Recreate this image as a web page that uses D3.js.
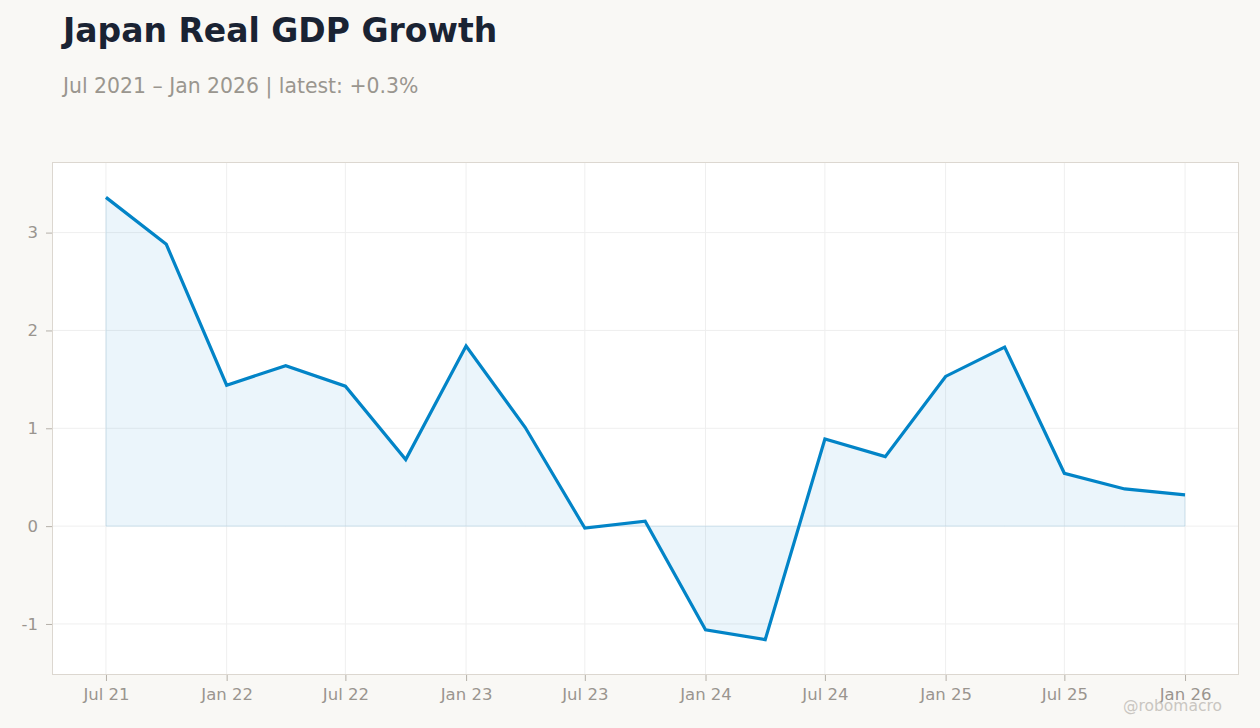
<!DOCTYPE html>
<html>
<head>
<meta charset="utf-8">
<script src="https://cdn.jsdelivr.net/npm/d3@7"></script>
<style>
  html, body { margin: 0; padding: 0; background: #f9f8f5; }
  svg { display: block; }
</style>
</head>
<body>
<svg id="chart" width="1260" height="728"></svg>
<script>
// quarterly real GDP growth, % y/y
var quarters = ["2021-07", "2021-10", "2022-01", "2022-04", "2022-07", "2022-10",
                "2023-01", "2023-04", "2023-07", "2023-10", "2024-01", "2024-04",
                "2024-07", "2024-10", "2025-01", "2025-04", "2025-07", "2025-10", "2026-01"];
var growth = [3.36, 2.88, 1.44, 1.64, 1.43, 0.68,
              1.84, 1.01, -0.02, 0.05, -1.06, -1.16,
              0.89, 0.71, 1.53, 1.83, 0.54, 0.38, 0.32];
var yTicks = [-1, 0, 1, 2, 3];
var xTicks = ["2021-07", "2022-01", "2022-07", "2023-01", "2023-07", "2024-01",
              "2024-07", "2025-01", "2025-07", "2026-01"];

var parse = d3.timeParse("%Y-%m");
var data = quarters.map((q, i) => ({ date: parse(q), value: growth[i] }));

var svg = d3.select("#chart"),
    margin = {top: 162, right: 21, bottom: 53, left: 52},
    width = +svg.attr("width") - margin.left - margin.right,
    height = +svg.attr("height") - margin.top - margin.bottom;

svg.append("text")
    .attr("x", 63).attr("y", 42)
    .style("font-family", "DejaVu Sans").style("font-weight", "bold")
    .style("font-size", "33px").style("fill", "#1a2333")
    .text("Japan Real GDP Growth");

svg.append("text")
    .attr("x", 63).attr("y", 93)
    .style("font-family", "DejaVu Sans").style("font-size", "20.4px")
    .style("fill", "#9a968f")
    .text("Jul 2021 \u2013 Jan 2026 | latest: +0.3%");

var g = svg.append("g").attr("transform", "translate(" + margin.left + "," + margin.top + ")");

var t0 = data[0].date, t1 = data[data.length - 1].date,
    pad = (t1 - t0) * 0.05;
var x = d3.scaleTime()
    .domain([new Date(+t0 - pad), new Date(+t1 + pad)])
    .range([0, width]);

var yMin = d3.min(growth), yMax = d3.max(growth), yPad = (yMax - yMin) * 0.08;
var y = d3.scaleLinear()
    .domain([yMin - yPad, yMax + yPad])
    .range([height, 0]);

g.append("rect")
    .attr("width", width).attr("height", height)
    .style("fill", "#ffffff");

// grid
g.selectAll(".vgrid").data(xTicks.map(parse)).enter().append("line")
    .attr("x1", d => x(d)).attr("x2", d => x(d))
    .attr("y1", 0).attr("y2", height)
    .style("stroke", "#efefef").style("stroke-width", 1);
g.selectAll(".hgrid").data(yTicks).enter().append("line")
    .attr("x1", 0).attr("x2", width)
    .attr("y1", d => y(d)).attr("y2", d => y(d))
    .style("stroke", "#efefef").style("stroke-width", 1);

var area = d3.area()
    .x(d => x(d.date))
    .y0(y(0))
    .y1(d => y(d.value));

g.append("path")
    .datum(data)
    .attr("d", area)
    .style("fill", "#0284c7").style("fill-opacity", 0.08)
    .style("stroke", "#0284c7").style("stroke-opacity", 0.12).style("stroke-width", 1);

var line = d3.line()
    .x(d => x(d.date))
    .y(d => y(d.value));

g.append("path")
    .datum(data)
    .attr("d", line)
    .style("fill", "none")
    .style("stroke", "#0284c7").style("stroke-width", 3.2)
    .style("stroke-linejoin", "miter");

g.append("rect")
    .attr("x", 0.5).attr("y", 0.5)
    .attr("width", width - 1).attr("height", height - 1)
    .style("fill", "none").style("stroke", "#dcd7d0");

var xAxis = g.append("g")
    .attr("transform", "translate(0," + height + ")")
    .call(d3.axisBottom(x).tickValues(xTicks.map(parse))
        .tickFormat(d3.timeFormat("%b %y")).tickSize(6).tickPadding(7));

var yAxis = g.append("g")
    .call(d3.axisLeft(y).tickValues(yTicks).tickFormat(d => String(d))
        .tickSize(6).tickPadding(8));

[xAxis, yAxis].forEach(a => {
    a.select(".domain").remove();
    a.selectAll("line").style("stroke", "#b5b0a9");
    a.selectAll("text")
        .style("font-family", "DejaVu Sans").style("font-size", "16.5px")
        .style("fill", "#9a958f");
});

svg.append("text")
    .attr("x", 1222).attr("y", 711)
    .attr("text-anchor", "end")
    .style("font-family", "DejaVu Sans").style("font-size", "15.5px")
    .style("fill", "#c9c6c1")
    .text("@robomacro");
</script>
</body>
</html>
